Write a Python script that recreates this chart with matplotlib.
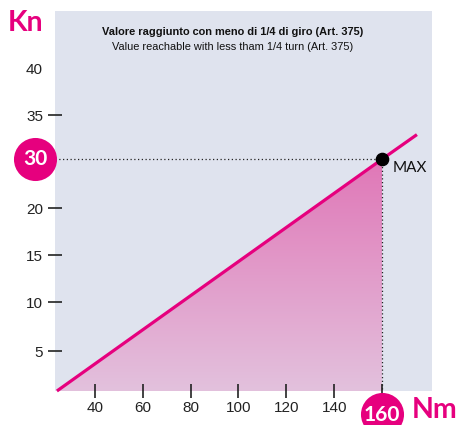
import numpy as np
import matplotlib as mpl
import matplotlib.pyplot as plt
from matplotlib.patches import Polygon
from matplotlib.colors import LinearSegmentedColormap
import matplotlib.transforms as mtransforms


# torque in Nm against load in Kn
nm_ticks = [40, 60, 80, 100, 120, 140, 160]
kn_ticks = [5, 10, 15, 20, 35, 40]
kn_tick_labels = ["5", "10", "15", "20", "35", "40"]
line_nm = [24.1, 160, 174.6]
line_kn = [0.92, 30, 32.8]
max_nm = 160
max_kn = 30

title_it = "Valore raggiunto con meno di 1/4 di giro (Art. 375)"
title_en = "Value reachable with less tham 1/4 turn (Art. 375)"

# the printed Kn stops are evenly spaced (25 is left out), so the axis is piecewise
KN_STOPS = [0, 5, 10, 15, 20, 30, 35, 40, 45, 50]
KN_POS = [0, 49, 98, 145, 192, 241, 285, 332, 379, 426]

PINK = "#e6007e"
BG = "#dfe3ee"
SANS = ["Liberation Sans", "DejaVu Sans"]
ROUND = ["Lato", "DejaVu Sans"]

mpl.rcParams["font.family"] = SANS


def kn_forward(v):
    return np.interp(v, KN_STOPS, KN_POS)


def kn_inverse(p):
    return np.interp(p, KN_POS, KN_STOPS)


fig = plt.figure(figsize=(4.58, 4.25), dpi=100)
ax = fig.add_axes([55 / 458, 34 / 425, 377 / 458, 380 / 425])
ax.set_facecolor(BG)
for sp in ax.spines.values():
    sp.set_visible(False)

ax.set_yscale("function", functions=(kn_forward, kn_inverse))
ax.set_xlim(23.3, 180.9)
ax.set_ylim(0.92, 46.1)
y0 = ax.get_ylim()[0]

# shaded area under the line, light at the bottom and deeper towards MAX
_, fy = ax.transAxes.inverted().transform(
    ax.transData.transform((max_nm, max_kn)))
cmap = LinearSegmentedColormap.from_list("fill", ["#e3c1dd", "#e077b7"])
grad = np.linspace(0, 1, 256).reshape(-1, 1)
im = ax.imshow(grad, cmap=cmap, extent=(0, 1, 0, fy), origin="lower",
               aspect="auto", transform=ax.transAxes, zorder=1)
poly = Polygon([(line_nm[0], line_kn[0]), (max_nm, max_kn), (max_nm, y0)],
               closed=True, facecolor="none", edgecolor="none",
               transform=ax.transData)
ax.add_patch(poly)
im.set_clip_path(poly)

# guide lines to the maximum
ax.plot([ax.get_xlim()[0], max_nm], [max_kn, max_kn], color="#222222",
        lw=0.9, ls=(0, (1, 2)), zorder=2)
ax.plot([max_nm, max_nm], [max_kn, y0], color="#222222",
        lw=0.9, ls=(0, (1, 2)), zorder=2)

ax.plot(line_nm, line_kn, color=PINK, lw=2.3, solid_capstyle="butt",
        zorder=3, clip_on=False)
ax.plot([max_nm], [max_kn], "o", color="black", ms=8.8, zorder=4,
        clip_on=False)
ax.annotate("MAX", (max_nm, max_kn), xytext=(8, -6),
            textcoords="offset points", ha="left", va="center",
            fontsize=11, family=ROUND, color="#111111")

ax.set_xticks(nm_ticks, labels=[str(v) for v in nm_ticks[:-1]] + [""])
ax.set_yticks(kn_ticks, labels=kn_tick_labels)
ax.yaxis.set_minor_locator(mpl.ticker.NullLocator())
ax.tick_params(axis="both", direction="inout", length=10, width=1.2,
               color="#222222", labelsize=11, labelcolor="#222222")
ax.tick_params(axis="y", pad=3.6)
ax.tick_params(axis="x", pad=2.5)
ax.yaxis.get_major_ticks()[-1].tick1line.set_visible(False)

# circled values on both axes
ytrans = mtransforms.blended_transform_factory(ax.transAxes, ax.transData)
xtrans = mtransforms.blended_transform_factory(ax.transData, ax.transAxes)
ax.plot([-0.053], [max_kn], "o", color=PINK, ms=31, mew=0,
        transform=ytrans, clip_on=False, zorder=5)
ax.text(-0.053, max_kn, "30", transform=ytrans, ha="center", va="center",
        color="white", fontsize=15, fontweight="bold", family=ROUND,
        zorder=6)
ax.plot([max_nm], [-0.06], "o", color=PINK, ms=31, mew=0,
        transform=xtrans, clip_on=False, zorder=5)
ax.text(max_nm, -0.062, "160", transform=xtrans, ha="center", va="center",
        color="white", fontsize=15, fontweight="bold", family=ROUND,
        zorder=6)

# axis names
fig.text(8 / 458, 1 - 23 / 425, "Kn", ha="left", va="center", color=PINK,
         fontsize=20.5, fontweight="bold", family=ROUND)
fig.text(412 / 458, 1 - 410 / 425, "Nm", ha="left", va="center", color=PINK,
         fontsize=20.5, fontweight="bold", family=ROUND)

fig.text(233 / 458, 1 - 32 / 425, title_it, ha="center", va="center",
         fontsize=7.9, fontweight="bold", color="#111111")
fig.text(233 / 458, 1 - 47 / 425, title_en, ha="center", va="center",
         fontsize=7.9, color="#111111")

fig.savefig("out.png", dpi=100, facecolor="white")
